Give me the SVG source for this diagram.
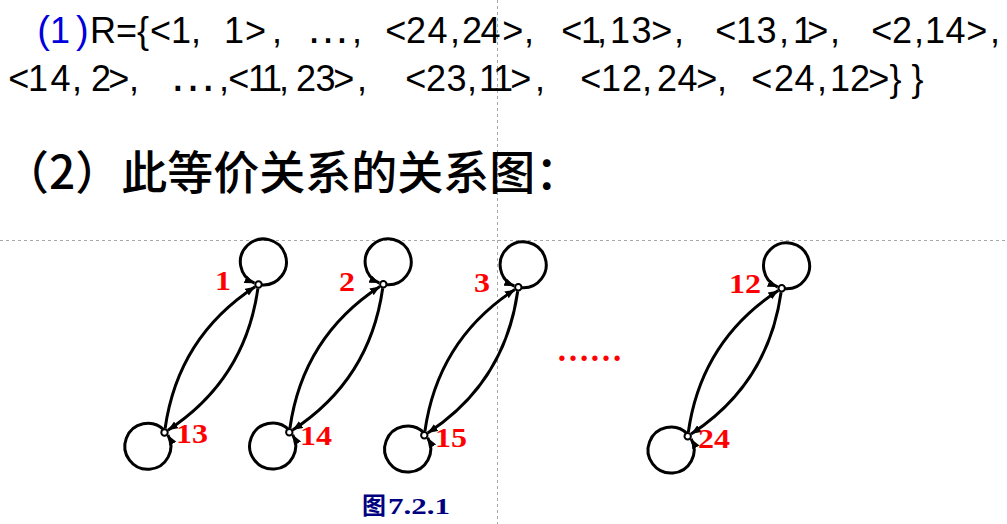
<svg xmlns="http://www.w3.org/2000/svg" width="1007" height="524" viewBox="0 0 1007 524">
<style>
.t{font-family:"Liberation Sans","Noto Sans CJK SC",sans-serif;font-size:36px;fill:#000}
.blue{fill:#0000DD}
.h2{font-family:"Noto Sans CJK SC","Liberation Sans",sans-serif;font-size:46px;font-weight:500;fill:#000}
.lbl{font-family:"Liberation Serif",serif;font-size:28px;font-weight:bold;fill:#FF0000}
.cap{fill:#000080;font-weight:bold}
.guide{stroke:#A8A8A8;stroke-width:1;stroke-dasharray:3 3;fill:none}
.edge{stroke:#000;stroke-width:3;fill:none}
.node{fill:#fff;stroke:#000;stroke-width:2}
</style>
<defs>
<marker id="ah" markerWidth="12" markerHeight="10" refX="10" refY="4" orient="auto" markerUnits="userSpaceOnUse">
<path d="M0,0 L10,4 L0,8 z" fill="#000"/>
</marker>
</defs>
<line class="guide" x1="0" y1="240.5" x2="1007" y2="240.5"/>
<line class="guide" x1="497.5" y1="0" x2="497.5" y2="524"/>
<text class="t blue" x="37.3 50.1 76" y="43"><tspan style="font-size:38px">(</tspan>1<tspan style="font-size:38px">)</tspan></text>
<text class="t" x="90 116 137 150 171 191 224 245 272" y="43">R={&lt;1,1&gt;,</text>
<text class="t" x="306" y="43" style="font-size:44px">…</text>
<text class="t" x="351.9 385.3 405.9 427.6 449.9 461.9 480.6 502.3 523.9 561.3 581.1 596.9 610.1 631.5 651.3 673.9 715.3 736.1 756.5 778.9 793.1 807.3 829.9 871.3 891.9 913.9 925.1 945.6 966.3 989.9" y="43">,&lt;24,24&gt;,&lt;1,13&gt;,&lt;13,1&gt;,&lt;2,14&gt;,</text>
<text class="t" x="8.3 28.1 50.6 71.9 90.9 108.3 128.9" y="91">&lt;14,2&gt;,</text>
<text class="t" x="169" y="91" style="font-size:48px">…</text>
<text class="t" x="218.9 228.3 248.1 262.1 278.9 295.9 315.5 333.3 356.9 405.3 425.9 446.5 466.9 479.1 493.1 510.3 534.9 580.3 601.1 621.9 641.9 656.9 677.6 696.3 716.9 751.3 773.9 794.6 816.9 830.1 849.9 868.3 889.6 911.6" y="91">,&lt;11,23&gt;,&lt;23,11&gt;,&lt;12,24&gt;,&lt;24,12&gt;}}</text>
<text class="h2" x="3" y="189">（2）此等价关系的关系图：</text>
<g id="connectors">
<g transform="translate(258.5,284.5)">
<path class="edge" d="M-93.4,144 Q-80.5,52.5 -3.4,2.2" marker-end="url(#ah)"/>
<path class="edge" d="M-0.6,4 Q-13.5,95.5 -90.6,145.8" marker-end="url(#ah)"/>
</g>
<g transform="translate(383.3,284.3)">
<path class="edge" d="M-93.4,144 Q-80.5,52.5 -3.4,2.2" marker-end="url(#ah)"/>
<path class="edge" d="M-0.6,4 Q-13.5,95.5 -90.6,145.8" marker-end="url(#ah)"/>
</g>
<g transform="translate(518.3,287.3)">
<path class="edge" d="M-93.4,144 Q-80.5,52.5 -3.4,2.2" marker-end="url(#ah)"/>
<path class="edge" d="M-0.6,4 Q-13.5,95.5 -90.6,145.8" marker-end="url(#ah)"/>
</g>
<g transform="translate(781.7,288.3)">
<path class="edge" d="M-93.4,144 Q-80.5,52.5 -3.4,2.2" marker-end="url(#ah)"/>
<path class="edge" d="M-0.6,4 Q-13.5,95.5 -90.6,145.8" marker-end="url(#ah)"/>
</g>
</g>
<g id="node1" transform="translate(258.5,284.5)">
<path class="edge" d="M3,0.4 A23,23 0 1 0 -4,-1.3" marker-end="url(#ah)"/>
<circle class="node" cx="0" cy="0" r="3.2"/>
<text class="lbl" x="-43.5" y="5.5" textLength="16" lengthAdjust="spacingAndGlyphs">1</text>
</g>
<g id="node13" transform="translate(164.5,432.5)">
<path class="edge" d="M-0.2,-2.3 A23,23 0 1 0 3.4,2.5" marker-end="url(#ah)"/>
<circle class="node" cx="0" cy="0" r="3.2"/>
<text class="lbl" x="11.5" y="10.5" textLength="32" lengthAdjust="spacingAndGlyphs">13</text>
</g>
<g id="node2" transform="translate(383.3,284.3)">
<path class="edge" d="M3,0.4 A23,23 0 1 0 -4,-1.3" marker-end="url(#ah)"/>
<circle class="node" cx="0" cy="0" r="3.2"/>
<text class="lbl" x="-44.3" y="6.7" textLength="16" lengthAdjust="spacingAndGlyphs">2</text>
</g>
<g id="node14" transform="translate(289.3,432.3)">
<path class="edge" d="M-0.2,-2.3 A23,23 0 1 0 3.4,2.5" marker-end="url(#ah)"/>
<circle class="node" cx="0" cy="0" r="3.2"/>
<text class="lbl" x="10.7" y="12.7" textLength="32" lengthAdjust="spacingAndGlyphs">14</text>
</g>
<g id="node3" transform="translate(518.3,287.3)">
<path class="edge" d="M3,0.4 A23,23 0 1 0 -4,-1.3" marker-end="url(#ah)"/>
<circle class="node" cx="0" cy="0" r="3.2"/>
<text class="lbl" x="-44.3" y="4.7" textLength="16" lengthAdjust="spacingAndGlyphs">3</text>
</g>
<g id="node15" transform="translate(424.3,435.3)">
<path class="edge" d="M-0.2,-2.3 A23,23 0 1 0 3.4,2.5" marker-end="url(#ah)"/>
<circle class="node" cx="0" cy="0" r="3.2"/>
<text class="lbl" x="10.7" y="11.7" textLength="32" lengthAdjust="spacingAndGlyphs">15</text>
</g>
<g id="node12" transform="translate(781.7,288.3)">
<path class="edge" d="M3,0.4 A23,23 0 1 0 -4,-1.3" marker-end="url(#ah)"/>
<circle class="node" cx="0" cy="0" r="3.2"/>
<text class="lbl" x="-52.7" y="4.7" textLength="32" lengthAdjust="spacingAndGlyphs">12</text>
</g>
<g id="node24" transform="translate(687.7,436.3)">
<path class="edge" d="M-0.2,-2.3 A23,23 0 1 0 3.4,2.5" marker-end="url(#ah)"/>
<circle class="node" cx="0" cy="0" r="3.2"/>
<text class="lbl" x="10.3" y="11.7" textLength="32" lengthAdjust="spacingAndGlyphs">24</text>
</g>
<text class="lbl" x="556.5" y="361" style="font-size:33px">……</text>
<g id="caption">
<text class="cap" x="362" y="514" style="font-family:'Noto Sans CJK SC',sans-serif;font-size:24px">图</text>
<text class="cap" x="388" y="514" style="font-family:'Liberation Serif',serif;font-size:24px" textLength="62" lengthAdjust="spacingAndGlyphs">7.2.1</text>
</g>
</svg>
